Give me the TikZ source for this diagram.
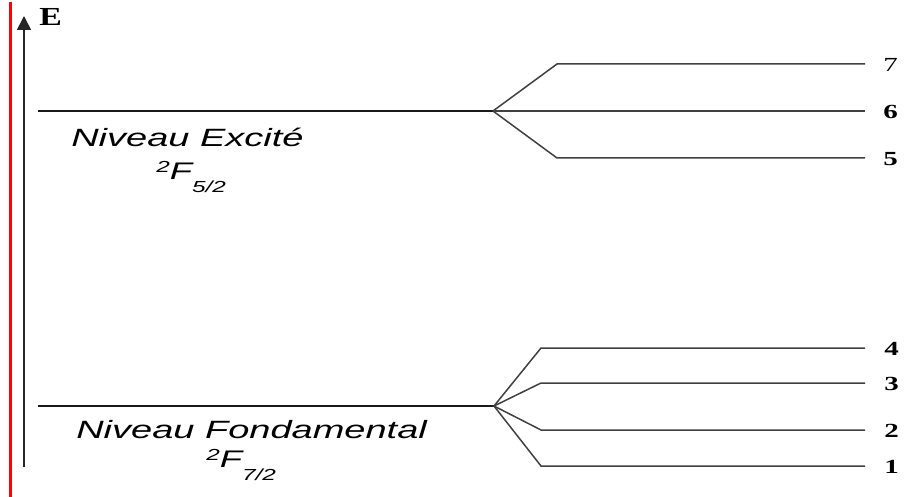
\documentclass[tikz,border=0pt]{standalone}
\usepackage{fontspec}
\setmainfont{Liberation Serif}
\newfontfamily\arialfont{Liberation Sans}
\usetikzlibrary{arrows.meta}

\newcommand{\etatF}[1]{\raisebox{7pt}{\fontsize{16pt}{16pt}\selectfont 2}F\raisebox{-13pt}{\fontsize{16pt}{16pt}\selectfont #1}}

\tikzset{
    niveau/.style={line width=1.6pt, black!90},
    branche/.style={line width=1.5pt, black!75},
    etiquette/.style={font=\arialfont\itshape\fontsize{25pt}{27pt}\selectfont, xscale=1.52, inner sep=0pt, anchor=base west},
    numero/.style={font=\fontsize{20pt}{22pt}\selectfont, xscale=1.45, inner sep=0pt, anchor=west},
}

\begin{document}
\begin{tikzpicture}[x=1pt, y=-1pt]
    \useasboundingbox (0,0) rectangle (910,497);
    % axe des energies
    \coordinate (rougeH) at (10.5,2);
    \coordinate (rougeB) at (10.5,497);
    \draw[red, line width=3pt] (rougeH) -- (rougeB);
    \coordinate (axeB) at (24,467);
    \coordinate (axeH) at (24,16);
    \draw[-{Triangle[length=14pt,width=14pt]}, line width=1.6pt, black!85] (axeB) -- (axeH);
    \node[font=\bfseries\fontsize{26pt}{28pt}\selectfont, xscale=1.3, inner sep=0pt, anchor=base west] (E) at (39,26) {E};

    % niveau excite
    \coordinate (ex0) at (38,111);
    \coordinate (exS) at (493,111);
    \draw[niveau] (ex0) -- (exS);
    \foreach \y/\n/\f in {64/7/\mdseries, 111/6/\bfseries, 158/5/\bfseries} {
        \coordinate (b\n) at (557,\y);
        \coordinate (f\n) at (865,\y);
        \draw[branche] (exS) -- (b\n) -- (f\n);
        \node[numero] (n\n) at ([xshift=18pt, yshift=-1pt]f\n) {\f\n};
    }
    \node[etiquette] (nomEx) at (71,147) {Niveau Excité};
    \node[etiquette, font=\arialfont\itshape\fontsize{24pt}{26pt}\selectfont] (termeEx) at (156,180) {\etatF{5/2}};

    % niveau fondamental
    \coordinate (fo0) at (38,406);
    \coordinate (foS) at (494,406);
    \draw[niveau] (fo0) -- (foS);
    \foreach \y/\n in {348/4, 383/3, 430/2, 466/1} {
        \coordinate (b\n) at (541,\y);
        \coordinate (f\n) at (865,\y);
        \draw[branche] (foS) -- (b\n) -- (f\n);
        \node[numero] (n\n) at ([xshift=19pt, yshift=-1pt]f\n) {\bfseries\n};
    }
    \node[etiquette] (nomFo) at (76,438) {Niveau Fondamental};
    \node[etiquette, font=\arialfont\itshape\fontsize{24pt}{26pt}\selectfont] (termeFo) at (206,467) {\etatF{7/2}};
\end{tikzpicture}
\end{document}
